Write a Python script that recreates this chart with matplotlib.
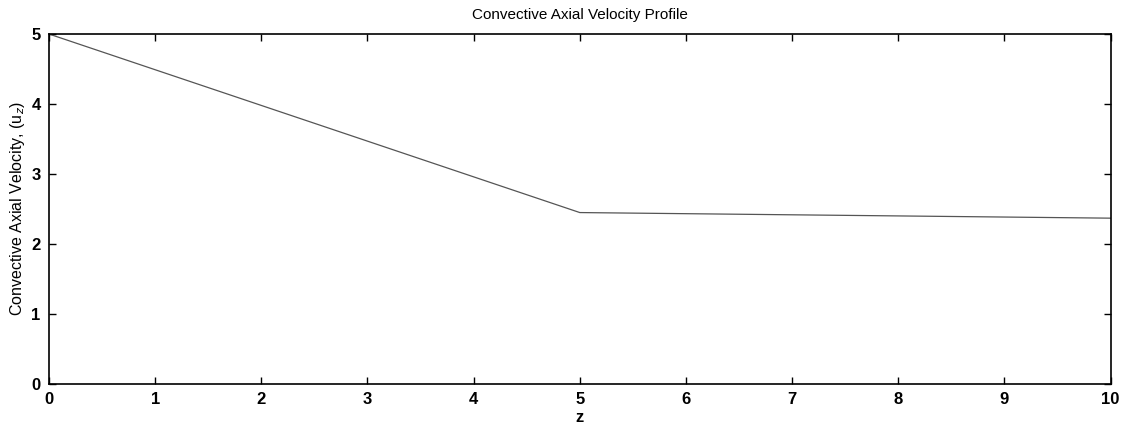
import matplotlib
matplotlib.use("Agg")
import matplotlib.pyplot as plt

z = [0, 5, 10]
u = [5.0, 2.45, 2.37]
xticks = [0, 1, 2, 3, 4, 5, 6, 7, 8, 9, 10]
yticks = [0, 1, 2, 3, 4, 5]

plt.rcParams['font.family'] = ['Liberation Sans', 'DejaVu Sans']

fig = plt.figure(figsize=(11.23, 4.36), dpi=100)
ax = fig.add_axes([0.0436, 0.119, 0.9454, 0.803])
ax.plot(z, u, color='#555555', linewidth=0.9)
ax.set_xlim(0, 10)
ax.set_ylim(0, 5)
ax.set_xticks(xticks)
ax.set_yticks(yticks)
ax.tick_params(direction='in', top=True, right=True, length=5, width=1, labelsize=12, pad=6)
for lab in ax.get_xticklabels() + ax.get_yticklabels():
    lab.set_fontweight('bold')
for s in ax.spines.values():
    s.set_linewidth(1.2)
ax.set_title('Convective Axial Velocity Profile', fontsize=11, pad=11)
ax.set_xlabel('z', fontsize=12, fontweight='bold', labelpad=2)
ax.set_ylabel('Convective Axial Velocity, (u$_z$)', fontsize=11.5, labelpad=3)
fig.savefig('out.png', dpi=100)
